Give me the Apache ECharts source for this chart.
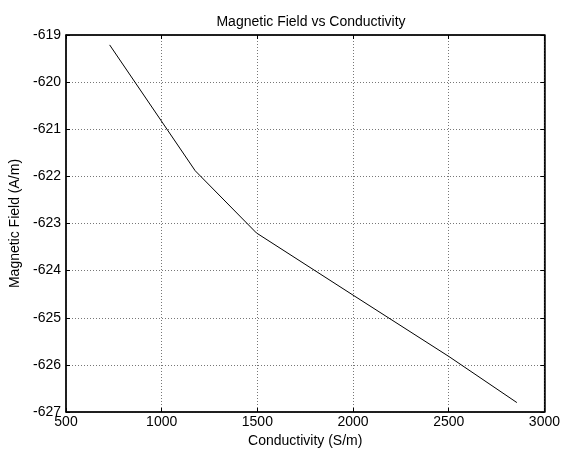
<!DOCTYPE html>
<html>
<head>
<meta charset="utf-8">
<script src="https://cdn.jsdelivr.net/npm/echarts@6/dist/echarts.min.js"></script>
<style>
html,body{margin:0;padding:0;background:#fff;}
#chart{width:563px;height:453px;}
</style>
</head>
<body>
<div id="chart"></div>
<script>
// 数据
var conductivity = [728, 1175, 1495, 2000, 2500, 2856];
var magneticField = [-619.21, -621.88, -623.2, -624.52, -625.82, -626.8];

var myChart = echarts.init(document.getElementById('chart'));

var font = 'Liberation Sans, Arial, sans-serif';
var fs = 14;
var gridStyle = { show: true, lineStyle: { color: '#777', type: [1, 2], width: 1 } };

var option = {
    backgroundColor: '#fff',
    animation: false,
    title: {
        text: 'Magnetic Field vs Conductivity',
        left: 306, top: 10, textAlign: 'center',
        textStyle: { fontFamily: font, fontSize: fs, fontWeight: 'normal', color: '#000' }
    },
    grid: { left: 66, right: 14, top: 35, bottom: 41, show: true, borderColor: '#000', borderWidth: 1 },
    xAxis: [{
        type: 'value', min: 500, max: 3000, interval: 500,
        name: 'Conductivity (S/m)', nameLocation: 'middle', nameGap: 22,
        nameTextStyle: { fontFamily: font, fontSize: fs, color: '#000' },
        axisLine: { show: true, lineStyle: { color: '#000', width: 1.5 } },
        axisTick: { inside: true, length: 4, lineStyle: { color: '#000' } },
        axisLabel: { fontFamily: font, fontSize: fs, color: '#000', margin: 3, formatter: function (v) { return String(v); } },
        splitLine: gridStyle
    }, {
        type: 'value', position: 'top', min: 500, max: 3000, interval: 500,
        axisLine: { show: true, lineStyle: { color: '#000', width: 1.5 } },
        axisTick: { inside: true, length: 4, lineStyle: { color: '#000' } },
        axisLabel: { show: false }, splitLine: { show: false }
    }],
    yAxis: [{
        type: 'value', min: -627, max: -619, interval: 1,
        name: 'Magnetic Field (A/m)', nameLocation: 'middle', nameGap: 42, nameRotate: 90,
        nameTextStyle: { fontFamily: font, fontSize: fs, color: '#000' },
        axisLine: { show: true, lineStyle: { color: '#000', width: 1.5 } },
        axisTick: { inside: true, length: 4, lineStyle: { color: '#000' } },
        axisLabel: { fontFamily: font, fontSize: fs, color: '#000', margin: 5, formatter: function (v) { return String(v); } },
        splitLine: gridStyle
    }, {
        type: 'value', position: 'right', min: -627, max: -619, interval: 1,
        axisLine: { show: true, lineStyle: { color: '#000', width: 1.5 } },
        axisTick: { inside: true, length: 4, lineStyle: { color: '#000' } },
        axisLabel: { show: false }, splitLine: { show: false }
    }],
    series: [{
        type: 'line',
        data: conductivity.map(function (c, i) { return [c, magneticField[i]]; }),
        showSymbol: false,
        lineStyle: { color: '#000', width: 1 }
    }]
};

myChart.setOption(option);
</script>
</body>
</html>
